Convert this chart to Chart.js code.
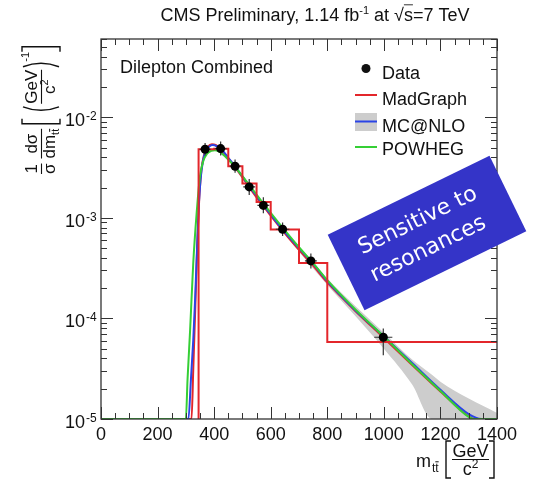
<!DOCTYPE html>
<html>
<head>
<meta charset="utf-8">
<script src="https://cdn.jsdelivr.net/npm/chart.js@4.4.1/dist/chart.umd.min.js"></script>
<style>
  html, body { margin: 0; padding: 0; background: #fff; }
  canvas { display: block; }
</style>
</head>
<body>
<canvas id="c" width="535" height="479"></canvas>
<script>
// ---- axis ticks ----
const xTicks = [0, 200, 400, 600, 800, 1000, 1200, 1400];
const yExponents = [-5, -4, -3, -2];

// ---- unfolded data (m_tt in GeV, normalised cross section) ----
const dataMass    = [368, 423, 474, 524, 574, 642, 742, 998];
const dataValue   = [4.81e-3, 4.88e-3, 3.26e-3, 2.03e-3, 1.33e-3, 7.7e-4, 3.73e-4, 6.5e-5];
const dataMassErr = [20, 21, 19, 21, 21, 24, 21, 32];
const dataLow     = [4.16e-3, 4.16e-3, 2.80e-3, 1.69e-3, 1.11e-3, 6.6e-4, 3.14e-4, 4.3e-5];
const dataHigh    = [5.56e-3, 5.73e-3, 3.80e-3, 2.44e-3, 1.60e-3, 8.98e-4, 4.43e-4, 7.93e-5];

// ---- MadGraph binned prediction ----
const madgraphEdges = [345, 400, 450, 500, 550, 600, 700, 800, 1400];
const madgraphBins  = [4.8e-3, 4.85e-3, 3.26e-3, 2.19e-3, 1.44e-3, 7.65e-4, 3.56e-4, 5.83e-5];

// ---- smooth predictions ----
const madgraphMass  = [0, 320, 326, 333, 340, 347, 355, 365, 378, 392, 405, 420, 450, 475, 500, 525, 550, 575, 600, 650, 700, 750, 800, 900, 1000, 1100, 1200, 1300, 1318, 1400];
const madgraphValue = [1e-5, 1e-5, 3e-5, 1.2e-4, 5e-4, 1.5e-3, 3.0e-3, 4.3e-3, 5.1e-3, 5.4e-3, 5.3e-3, 4.9e-3, 3.9e-3, 3.15e-3, 2.52e-3, 2.0e-3, 1.6e-3, 1.3e-3, 1.05e-3, 7.0e-4, 4.8e-4, 3.35e-4, 2.28e-4, 1.18e-4, 6.4e-5, 3.45e-5, 1.88e-5, 1.06e-5, 1e-5, 1e-5];

const mcnloMass  = [0, 309, 318, 326, 333, 339, 345, 352, 360, 370, 382, 395, 410, 425, 450, 475, 500, 525, 550, 575, 600, 650, 700, 750, 800, 900, 1000, 1100, 1200, 1300, 1345, 1400];
const mcnloValue = [1e-5, 1e-5, 2.5e-5, 6e-5, 1.6e-4, 4.5e-4, 1.2e-3, 2.4e-3, 3.6e-3, 4.6e-3, 5.1e-3, 5.3e-3, 5.15e-3, 4.85e-3, 3.95e-3, 3.22e-3, 2.58e-3, 2.05e-3, 1.65e-3, 1.33e-3, 1.08e-3, 7.2e-4, 5.0e-4, 3.5e-4, 2.35e-4, 1.2e-4, 6.6e-5, 3.6e-5, 1.95e-5, 1.12e-5, 1e-5, 1e-5];

const mcnloBandMass = [600, 700, 800, 900, 1000, 1100, 1170, 1200, 1300, 1400];
const mcnloBandLow  = [1.03e-3, 4.6e-4, 2.15e-4, 1.05e-4, 5.0e-5, 2.2e-5, 1.0e-5, 1.0e-5, 1.0e-5, 1.0e-5];
const mcnloBandHigh = [1.1e-3, 5.05e-4, 2.5e-4, 1.32e-4, 7.2e-5, 3.9e-5, 2.75e-5, 2.35e-5, 1.6e-5, 1.15e-5];

const powhegMass  = [0, 300, 306, 315, 326, 338, 350, 362, 375, 390, 403, 415, 430, 450, 475, 500, 525, 550, 575, 600, 650, 700, 750, 800, 900, 1000, 1100, 1200, 1300, 1320, 1400];
const powhegValue = [1e-5, 1e-5, 2.5e-5, 7.6e-5, 3.5e-4, 1.1e-3, 2.6e-3, 3.7e-3, 4.35e-3, 4.65e-3, 4.7e-3, 4.6e-3, 4.3e-3, 3.8e-3, 3.2e-3, 2.6e-3, 2.1e-3, 1.7e-3, 1.38e-3, 1.12e-3, 7.5e-4, 5.1e-4, 3.55e-4, 2.4e-4, 1.22e-4, 6.6e-5, 3.5e-5, 1.9e-5, 1.05e-5, 1e-5, 1e-5];

const Y_MIN = 1e-5, Y_MAX = 0.06;
const RED = '#e3262b', BLUE = '#2b44e6', GREEN = '#35cf35', BAND = '#cdcdcd';
const FONT = '"Liberation Sans", Arial, Helvetica, sans-serif';

const pts = (xs, ys) => xs.map((x, i) => ({ x, y: ys[i] }));

// step outline of the binned prediction
const histPoints = [{ x: madgraphEdges[0], y: Y_MIN }];
madgraphBins.forEach((v, i) => histPoints.push({ x: madgraphEdges[i], y: v }));
histPoints.push({ x: madgraphEdges[madgraphEdges.length - 1], y: madgraphBins[madgraphBins.length - 1] });

// ---- text helpers ----
function setFont(ctx, size) { ctx.font = size + 'px ' + FONT; }
function runWidth(ctx, segs) {
  let w = 0;
  for (const s of segs) { setFont(ctx, s.size); w += ctx.measureText(s.t).width + (s.gap || 0); }
  return w;
}
function drawRun(ctx, segs, x, y) {
  for (const s of segs) {
    setFont(ctx, s.size);
    const w = ctx.measureText(s.t).width;
    const by = y + (s.dy || 0);
    ctx.fillText(s.t, x, by);
    if (s.over) {
      const cw = s.over === 'all' ? w : ctx.measureText(s.t.slice(-1)).width;
      const top = by - s.size * (s.overH || 0.82);
      ctx.beginPath(); ctx.lineWidth = 1;
      ctx.moveTo(x + w - cw, top); ctx.lineTo(x + w, top); ctx.stroke();
    }
    x += w + (s.gap || 0);
  }
  return x;
}
function bracket(ctx, x, y1, y2, serif) {
  ctx.beginPath(); ctx.lineWidth = 1.4;
  ctx.moveTo(x + serif, y1); ctx.lineTo(x, y1); ctx.lineTo(x, y2); ctx.lineTo(x + serif, y2);
  ctx.stroke();
}
function paren(ctx, x, y1, y2, bulge) {
  ctx.beginPath(); ctx.lineWidth = 1.4;
  ctx.moveTo(x, y1); ctx.quadraticCurveTo(x - bulge, (y1 + y2) / 2, x, y2);
  ctx.stroke();
}

// ---- error bars for the data points ----
const errorBars = {
  id: 'errorBars',
  beforeDatasetDraw(chart, args) {
    if (chart.data.datasets[args.index].label !== 'Data') return;
    const { ctx, scales: { x, y } } = chart;
    ctx.save();
    ctx.strokeStyle = '#333'; ctx.lineWidth = 1.2;
    dataMass.forEach((m, i) => {
      const px = x.getPixelForValue(m), py = y.getPixelForValue(dataValue[i]);
      ctx.beginPath();
      ctx.moveTo(x.getPixelForValue(m - dataMassErr[i]), py);
      ctx.lineTo(x.getPixelForValue(m + dataMassErr[i]), py);
      ctx.moveTo(px, y.getPixelForValue(dataHigh[i]));
      ctx.lineTo(px, y.getPixelForValue(dataLow[i]));
      ctx.stroke();
    });
    ctx.restore();
  }
};

// ---- frame, ticks, labels, legend, annotation ----
const decorations = {
  id: 'decorations',
  afterDraw(chart) {
    const { ctx, chartArea: a, scales: { x, y } } = chart;
    ctx.save();
    ctx.fillStyle = '#111'; ctx.strokeStyle = '#333';

    // frame
    ctx.lineWidth = 1.3;
    ctx.strokeRect(a.left, a.top, a.right - a.left, a.bottom - a.top);

    // x ticks (bottom and top, pointing inwards)
    ctx.lineWidth = 1;
    ctx.beginPath();
    for (let v = 0; v <= 1400; v += 50) {
      const px = Math.round(x.getPixelForValue(v)) + 0.5;
      const len = v % 200 === 0 ? 12 : 6;
      ctx.moveTo(px, a.bottom); ctx.lineTo(px, a.bottom - len);
      ctx.moveTo(px, a.top); ctx.lineTo(px, a.top + len);
    }
    // y ticks (left and right, log minors)
    for (let e = -5; e <= -2; e++) {
      for (let k = 1; k <= 9; k++) {
        const v = k * Math.pow(10, e);
        if (v < Y_MIN || v > Y_MAX) continue;
        const py = Math.round(y.getPixelForValue(v)) + 0.5;
        const len = k === 1 ? 12 : 6;
        ctx.moveTo(a.left, py); ctx.lineTo(a.left + len, py);
        ctx.moveTo(a.right, py); ctx.lineTo(a.right - len, py);
      }
    }
    ctx.stroke();

    // x tick labels
    setFont(ctx, 18); ctx.textAlign = 'center'; ctx.textBaseline = 'alphabetic';
    xTicks.forEach(v => ctx.fillText(String(v), x.getPixelForValue(v), 440));

    // y tick labels 10^e
    yExponents.forEach(e => {
      const py = y.getPixelForValue(Math.pow(10, e));
      setFont(ctx, 18); ctx.textAlign = 'right';
      ctx.fillText('10', 85, py + 9);
      setFont(ctx, 12); ctx.textAlign = 'left';
      ctx.fillText('-' + Math.abs(e), 86, py + 3);
    });
    ctx.textAlign = 'left';

    // title
    const title = [
      { t: 'CMS Preliminary, 1.14 fb', size: 18 },
      { t: '-1', size: 11, dy: -7 },
      { t: ' at ', size: 18 },
      { t: '\u221A', size: 18 },
      { t: 's', size: 18, over: 'all', overH: 0.9 },
      { t: '=7 TeV', size: 18 }
    ];
    drawRun(ctx, title, 315 - runWidth(ctx, title) / 2, 21);

    // channel label
    setFont(ctx, 18);
    ctx.fillText('Dilepton Combined', 120, 73);

    // legend
    ctx.beginPath(); ctx.arc(366, 68.5, 4.5, 0, Math.PI * 2); ctx.fill();
    ctx.fillText('Data', 382, 79);
    ctx.strokeStyle = RED; ctx.lineWidth = 2;
    ctx.beginPath(); ctx.moveTo(355, 95); ctx.lineTo(377, 95); ctx.stroke();
    ctx.fillText('MadGraph', 382, 105);
    ctx.fillStyle = BAND; ctx.fillRect(355, 113, 22, 18);
    ctx.strokeStyle = BLUE;
    ctx.beginPath(); ctx.moveTo(355, 121.5); ctx.lineTo(377, 121.5); ctx.stroke();
    ctx.fillStyle = '#111';
    ctx.fillText('MC@NLO', 382, 131.5);
    ctx.strokeStyle = GREEN;
    ctx.beginPath(); ctx.moveTo(355, 147); ctx.lineTo(377, 147); ctx.stroke();
    ctx.fillText('POWHEG', 382, 154.5);

    // x axis title: m_tt [GeV/c^2]
    ctx.strokeStyle = '#111';
    setFont(ctx, 18); ctx.fillText('m', 416, 467);
    drawRun(ctx, [{ t: 'tt', size: 12, over: 'last', overH: 0.85 }], 432, 472);
    bracket(ctx, 446, 441, 478, 5);
    bracket(ctx, 494, 441, 478, -5);
    setFont(ctx, 18); ctx.textAlign = 'center';
    ctx.fillText('GeV', 470.5, 457);
    ctx.beginPath(); ctx.lineWidth = 1.2; ctx.moveTo(452, 459.5); ctx.lineTo(489, 459.5); ctx.stroke();
    ctx.textAlign = 'left';
    const cW = runWidth(ctx, [{ t: 'c', size: 18 }, { t: '2', size: 12 }]);
    drawRun(ctx, [{ t: 'c', size: 18 }, { t: '2', size: 12, dy: -7 }], 470.5 - cW / 2, 475);

    // y axis title: 1/sigma dsigma/dm_tt [(GeV/c^2)^-1], rotated
    ctx.save();
    ctx.translate(41, 174); ctx.rotate(-Math.PI / 2);
    ctx.fillStyle = '#111'; ctx.strokeStyle = '#111';
    const numY = -4, denY = 14, barY = 0.5, fs = 17;
    function frac(x0, num, den) {
      const wn = runWidth(ctx, num), wd = runWidth(ctx, den), w = Math.max(wn, wd);
      drawRun(ctx, num, x0 + (w - wn) / 2, numY);
      drawRun(ctx, den, x0 + (w - wd) / 2, denY);
      ctx.beginPath(); ctx.lineWidth = 1.1; ctx.moveTo(x0, barY); ctx.lineTo(x0 + w, barY); ctx.stroke();
      return x0 + w;
    }
    let lx = 0;
    lx = frac(lx, [{ t: '1', size: fs }], [{ t: '\u03C3', size: fs }]) + 5;
    lx = frac(lx, [{ t: 'd\u03C3', size: fs }],
                  [{ t: 'dm', size: fs }, { t: 'tt', size: 11, dy: 4, over: 'last', overH: 0.85 }]) + 5;
    bracket(ctx, lx, -19, 19, 5); lx += 10;
    paren(ctx, lx + 7, -18, 18, 7); lx += 10;
    lx = frac(lx, [{ t: 'GeV', size: fs }], [{ t: 'c', size: fs }, { t: '2', size: 11, dy: -7 }]) + 3;
    paren(ctx, lx, -18, 18, -7); lx += 5;
    drawRun(ctx, [{ t: '-1', size: 11 }], lx, -12); lx += 15;
    bracket(ctx, lx, -19, 19, -5);
    ctx.restore();

    // annotation box
    ctx.save();
    ctx.translate(427, 233); ctx.rotate(-26 * Math.PI / 180);
    ctx.fillStyle = '#3434c8';
    ctx.fillRect(-90, -42, 180, 84);
    ctx.fillStyle = '#ffffff'; ctx.textAlign = 'center';
    ctx.font = '22px "DejaVu Sans", Verdana, sans-serif';
    ctx.fillText('Sensitive to', -3, -9);
    ctx.fillText('resonances', -6, 21);
    ctx.restore();

    ctx.restore();
  }
};

const lineDefaults = { showLine: true, pointRadius: 0, fill: false, borderWidth: 2 };

new Chart(document.getElementById('c').getContext('2d'), {
  type: 'scatter',
  data: {
    datasets: [
      { label: 'Data', data: pts(dataMass, dataValue), showLine: false,
        pointRadius: 4.5, pointBackgroundColor: '#000', pointBorderColor: '#000', pointBorderWidth: 0, order: 0 },
      // 'before': horizontal run at the previous bin height, then the vertical edge
      { label: 'MadGraph bins', data: histPoints, ...lineDefaults, stepped: 'before', borderColor: RED, order: 1 },
      { label: 'POWHEG', data: pts(powhegMass, powhegValue), ...lineDefaults, borderColor: GREEN,
        cubicInterpolationMode: 'monotone', order: 2 },
      { label: 'MC@NLO', data: pts(mcnloMass, mcnloValue), ...lineDefaults, borderColor: BLUE,
        cubicInterpolationMode: 'monotone', order: 3 },
      { label: 'MadGraph', data: pts(madgraphMass, madgraphValue), ...lineDefaults, borderColor: RED,
        cubicInterpolationMode: 'monotone', order: 4 },
      { label: 'MC@NLO band low', data: pts(mcnloBandMass, mcnloBandLow), ...lineDefaults,
        borderWidth: 0, borderColor: 'rgba(0,0,0,0)', cubicInterpolationMode: 'monotone', order: 6 },
      { label: 'MC@NLO band high', data: pts(mcnloBandMass, mcnloBandHigh), ...lineDefaults,
        borderWidth: 0, borderColor: 'rgba(0,0,0,0)', fill: '-1', backgroundColor: BAND,
        cubicInterpolationMode: 'monotone', order: 5 }
    ]
  },
  options: {
    responsive: false,
    animation: false,
    devicePixelRatio: 1,
    layout: { padding: { left: 101, right: 38, top: 39, bottom: 60 } },
    scales: {
      x: { type: 'linear', min: 0, max: 1400, display: false },
      y: { type: 'logarithmic', min: Y_MIN, max: Y_MAX, display: false }
    },
    plugins: { legend: { display: false }, tooltip: { enabled: false } }
  },
  plugins: [errorBars, decorations]
});
</script>
</body>
</html>
